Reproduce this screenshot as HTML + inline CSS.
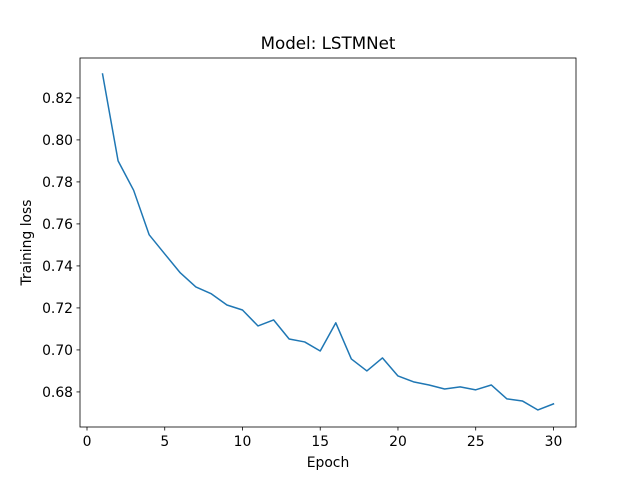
<!DOCTYPE html>
<html><head><meta charset="utf-8"><style>
body{margin:0;background:#fff;}
svg text{font-family:"DejaVu Sans","Liberation Sans",sans-serif;fill:#000;}
</style></head><body>
<svg id="chart" width="640" height="480" xmlns="http://www.w3.org/2000/svg">
<rect width="640" height="480" fill="#fff"/>
<g id="ticks"></g>
<polyline id="line" fill="none" stroke="#1f77b4" stroke-width="1.5" stroke-linejoin="round" stroke-linecap="square"/>
<rect x="80" y="58" width="496" height="369" fill="none" stroke="#000" stroke-width="0.8"/>
<text x="328" y="49" font-size="16.7" text-anchor="middle">Model: LSTMNet</text>
<text x="328" y="467" font-size="13.9" text-anchor="middle">Epoch</text>
<text transform="translate(31,242.5) rotate(-90)" font-size="13.9" text-anchor="middle">Training loss</text>
</svg>
<script>
const epochs=[1,2,3,4,5,6,7,8,9,10,11,12,13,14,15,16,17,18,19,20,21,22,23,24,25,26,27,28,29,30];
const loss=[0.8314,0.790,0.776,0.7548,0.7457,0.7367,0.730,0.7267,0.7214,0.719,0.7114,0.7143,0.7052,0.7038,0.6995,0.7129,0.6957,0.690,0.6962,0.6876,0.6848,0.6833,0.6814,0.6824,0.681,0.6833,0.6767,0.6757,0.6714,0.6743];
const xTicks=[0,5,10,15,20,25,30];
const yTicks=[0.68,0.70,0.72,0.74,0.76,0.78,0.80,0.82];
const L=80,R=576,T=58,B=427;
const xMin=-0.45,xMax=31.45,yMin=0.6633,yMax=0.839;
const xs=v=>L+(v-xMin)/(xMax-xMin)*(R-L);
const ys=v=>B-(v-yMin)/(yMax-yMin)*(B-T);
const NS="http://www.w3.org/2000/svg";
document.getElementById('line').setAttribute('points',epochs.map((e,i)=>xs(e)+','+ys(loss[i])).join(' '));
const g=document.getElementById('ticks');
xTicks.forEach(t=>{
 const l=document.createElementNS(NS,'line');
 
 
 l.setAttribute('x1',xs(t));l.setAttribute('x2',xs(t));l.setAttribute('y1',B);l.setAttribute('y2',B+3.5);l.setAttribute('stroke','#000');l.setAttribute('stroke-width','0.8');g.appendChild(l);
 const tx=document.createElementNS(NS,'text');
 
 
 tx.setAttribute('x',xs(t));tx.setAttribute('y',B+19);tx.setAttribute('font-size','13.9');tx.setAttribute('text-anchor','middle');tx.textContent=t;g.appendChild(tx);
});
yTicks.forEach(t=>{
 const l=document.createElementNS(NS,'line');
 
 
 l.setAttribute('x1',L-3.5);l.setAttribute('x2',L);l.setAttribute('y1',ys(t));l.setAttribute('y2',ys(t));l.setAttribute('stroke','#000');l.setAttribute('stroke-width','0.8');g.appendChild(l);
 const tx=document.createElementNS(NS,'text');
 
 
 tx.setAttribute('x',L-7);tx.setAttribute('y',ys(t)+5);tx.setAttribute('font-size','13.9');tx.setAttribute('text-anchor','end');tx.textContent=t.toFixed(2);g.appendChild(tx);
});
</script>
</body></html>
